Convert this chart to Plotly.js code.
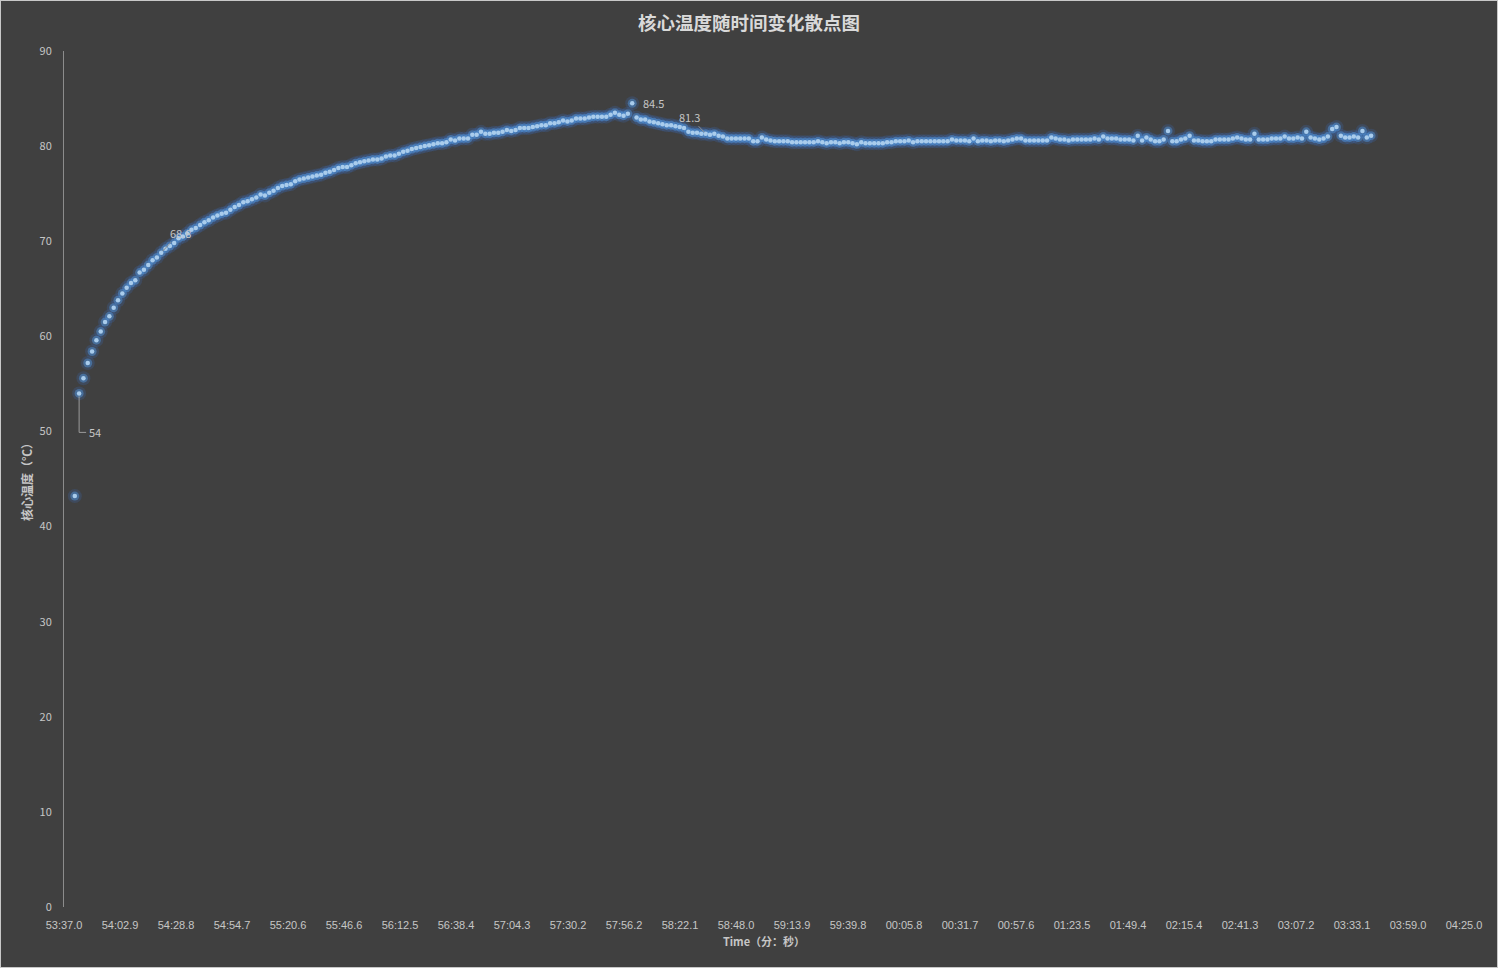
<!DOCTYPE html>
<html>
<head>
<meta charset="utf-8">
<script src="https://cdn.plot.ly/plotly-3.0.1.min.js"></script>
<style>
  html, body { margin: 0; padding: 0; background: #404040; }
  #chart { width: 1496px; height: 966px; border: 1px solid #c8c8c8; }
</style>
</head>
<body>
<div id="chart"></div>
<script>
// Seconds elapsed since 53:37.0 for each reading
const timeSeconds = [
  5,7,9,11,13,15,17,19,21,23,25,27,29,31,33,35,37,39,41,43,
  45,47,49,51,53,55,57,59,61,63,65,67,69,71,73,75,77,79,81,83,
  85,87,89,91,93,95,97,99,101,103,105,107,109,111,113,115,117,119,121,123,
  125,127,129,131,133,135,137,139,141,143,145,147,149,151,153,155,157,159,161,163,
  165,167,169,171,173,175,177,179,181,183,185,187,189,191,193,195,197,199,201,203,
  205,207,209,211,213,215,217,219,221,223,225,227,229,231,233,235,237,239,241,243,
  245,247,249,251,253,255,257,259,261,263,265,267,269,271,273,275,277,279,281,283,
  285,287,289,291,293,295,297,299,301,303,305,307,309,311,313,315,317,319,321,323,
  325,327,329,331,333,335,337,339,341,343,345,347,349,351,353,355,357,359,361,363,
  365,367,369,371,373,375,377,379,381,383,385,387,389,391,393,395,397,399,401,403,
  405,407,409,411,413,415,417,419,421,423,425,427,429,431,433,435,437,439,441,443,
  445,447,449,451,453,455,457,459,461,463,465,467,469,471,473,475,477,479,481,483,
  485,487,489,491,493,495,497,499,501,503,505,507,509,511,513,515,517,519,521,523,
  525,527,529,531,533,535,537,539,541,543,545,547,549,551,553,555,557,559,561,563,
  565,567,569,571,573,575,577,579,581,583,585,587,589,591,593,595,597,599,601,603,
  605
];

// Core temperature (°C)
const coreTemp = [
  43.2,54.0,55.6,57.2,58.4,59.6,60.5,61.5,62.1,63.0,63.8,64.5,65.1,65.6,65.9,66.7,67.0,67.5,68.0,68.3,
  68.8,69.2,69.5,69.8,70.3,70.5,70.8,71.2,71.4,71.7,72.0,72.2,72.5,72.7,72.9,73.0,73.3,73.6,73.8,74.1,
  74.2,74.4,74.6,74.9,74.8,75.1,75.3,75.6,75.8,75.9,76.0,76.3,76.5,76.6,76.7,76.8,76.9,77.0,77.2,77.3,
  77.5,77.7,77.8,77.8,78.0,78.2,78.3,78.4,78.5,78.6,78.6,78.7,78.9,79.0,79.0,79.2,79.4,79.5,79.7,79.8,
  79.9,80.0,80.1,80.2,80.3,80.3,80.4,80.7,80.6,80.8,80.8,80.8,81.2,81.2,81.5,81.3,81.3,81.4,81.4,81.5,
  81.7,81.6,81.7,81.9,81.9,81.9,82.0,82.1,82.2,82.2,82.4,82.4,82.5,82.7,82.6,82.7,82.9,82.9,82.9,83.0,
  83.1,83.1,83.1,83.1,83.3,83.5,83.3,83.2,83.4,84.5,83.0,82.8,82.8,82.6,82.5,82.4,82.3,82.2,82.2,82.1,
  82.0,81.9,81.5,81.4,81.4,81.3,81.3,81.2,81.3,81.1,81.0,80.8,80.8,80.8,80.8,80.8,80.8,80.5,80.5,80.9,
  80.7,80.6,80.5,80.5,80.5,80.5,80.4,80.4,80.4,80.4,80.4,80.4,80.5,80.4,80.3,80.4,80.4,80.3,80.4,80.4,
  80.3,80.2,80.4,80.3,80.3,80.3,80.3,80.3,80.4,80.4,80.5,80.5,80.5,80.6,80.4,80.5,80.5,80.5,80.5,80.5,
  80.5,80.5,80.5,80.7,80.6,80.6,80.6,80.5,80.8,80.5,80.6,80.6,80.5,80.6,80.6,80.5,80.6,80.7,80.8,80.8,
  80.6,80.6,80.6,80.6,80.6,80.6,80.9,80.8,80.7,80.7,80.6,80.7,80.7,80.7,80.7,80.7,80.8,80.7,81.0,80.8,
  80.8,80.8,80.7,80.7,80.7,80.6,81.1,80.6,80.9,80.7,80.5,80.5,80.7,81.6,80.5,80.5,80.7,80.8,81.1,80.6,
  80.6,80.5,80.5,80.5,80.7,80.7,80.7,80.7,80.8,80.9,80.8,80.7,80.7,81.3,80.7,80.7,80.7,80.8,80.8,80.8,
  81.0,80.8,80.8,80.9,80.8,81.5,80.9,80.8,80.7,80.8,81.0,81.8,82.0,81.1,80.9,80.9,81.0,80.9,81.6,80.9,
  81.1
];

// X axis tick labels (分:秒)
const tickLabels = [
  "53:37.0","54:02.9","54:28.8","54:54.7","55:20.6","55:46.6","56:12.5","56:38.4","57:04.3","57:30.2",
  "57:56.2","58:22.1","58:48.0","59:13.9","59:39.8","00:05.8","00:31.7","00:57.6","01:23.5","01:49.4",
  "02:15.4","02:41.3","03:07.2","03:33.1","03:59.0","04:25.0"
];

// Indices of the points that carry data labels
const labelledIdx = [1, 20, 129, 146];

const axisSpan = 648; // seconds covered by the x axis
const tickStep = axisSpan / (tickLabels.length - 1);
const tickVals = tickLabels.map((_, k) => k * tickStep);

const tickColor = '#c6c6c6';
const cjk = '"Noto Sans CJK SC", "Noto Sans", sans-serif';
const narrow = '"Liberation Sans Narrow", "Arial Narrow", "Liberation Sans", sans-serif';

const glowOuter = {
  x: timeSeconds, y: coreTemp, type: 'scatter', mode: 'markers',
  marker: { size: 14, color: 'rgba(60,110,190,0.22)', line: { width: 0 } },
  hoverinfo: 'skip', showlegend: false
};
const glowInner = {
  x: timeSeconds, y: coreTemp, type: 'scatter', mode: 'markers',
  marker: { size: 9, color: 'rgba(80,145,215,0.5)', line: { width: 0 } },
  hoverinfo: 'skip', showlegend: false
};
const core = {
  x: timeSeconds, y: coreTemp, type: 'scatter', mode: 'markers',
  marker: { size: 4.5, color: '#a9ccec', line: { width: 0 } },
  name: '核心温度', showlegend: false
};

const labelFont = { family: cjk, size: 11, color: tickColor };
const p = (i) => ({ x: timeSeconds[i], y: coreTemp[i] });

const annotations = [
  Object.assign(p(labelledIdx[0]), { text: String(coreTemp[labelledIdx[0]]), showarrow: false,
    xshift: 16, yshift: -39, font: labelFont }),
  Object.assign(p(labelledIdx[1]), { text: String(coreTemp[labelledIdx[1]]), showarrow: true,
    arrowhead: 0, arrowwidth: 1, arrowcolor: '#8f8f8f', ax: 19, ay: -20, standoff: 2, font: labelFont }),
  Object.assign(p(labelledIdx[2]), { text: String(coreTemp[labelledIdx[2]]), showarrow: false,
    xshift: 21, yshift: 0, font: labelFont }),
  Object.assign(p(labelledIdx[3]), { text: String(coreTemp[labelledIdx[3]]), showarrow: true,
    arrowhead: 0, arrowwidth: 1, arrowcolor: '#8f8f8f', ax: -16, ay: -17, standoff: 2, font: labelFont })
];

const shapes = [{
  type: 'path', xref: 'x', yref: 'y', xsizemode: 'pixel', ysizemode: 'pixel',
  xanchor: timeSeconds[labelledIdx[0]], yanchor: coreTemp[labelledIdx[0]],
  path: 'M0,-3 L0,-39 L7,-39', line: { color: '#9a9a9a', width: 1 }
}];

const layout = {
  width: 1496, height: 966,
  paper_bgcolor: '#404040', plot_bgcolor: '#404040',
  margin: { l: 63, r: 33, t: 50, b: 60 },
  title: {
    text: '核心温度随时间变化散点图',
    font: { family: cjk, size: 18.5, color: '#d9d9d9', weight: 'bold' },
    x: 0.5, xanchor: 'center', y: 0.977, yanchor: 'middle'
  },
  xaxis: {
    range: [0, axisSpan], tickvals: tickVals, ticktext: tickLabels,
    showgrid: false, zeroline: false, showline: false,
    ticks: 'outside', ticklen: 8, tickcolor: 'rgba(0,0,0,0)',
    tickfont: { family: narrow, size: 11, color: tickColor },
    title: { text: 'Time（分：秒）', font: { family: cjk, size: 11, color: tickColor, weight: 'bold' }, standoff: 8 }
  },
  yaxis: {
    range: [0, 90], dtick: 10, tick0: 0,
    showgrid: false, zeroline: false, showline: true, linecolor: '#8c8c8c', linewidth: 1,
    ticks: 'outside', ticklen: 9, tickcolor: 'rgba(0,0,0,0)',
    tickfont: { family: cjk, size: 11, color: tickColor },
    title: { text: '核心温度（℃）', font: { family: cjk, size: 12, color: tickColor, weight: 'bold' }, standoff: 4 }
  },
  annotations: annotations,
  shapes: shapes,
  showlegend: false
};

Plotly.newPlot('chart', [glowOuter, glowInner, core], layout, { displayModeBar: false, responsive: false });
</script>
</body>
</html>
